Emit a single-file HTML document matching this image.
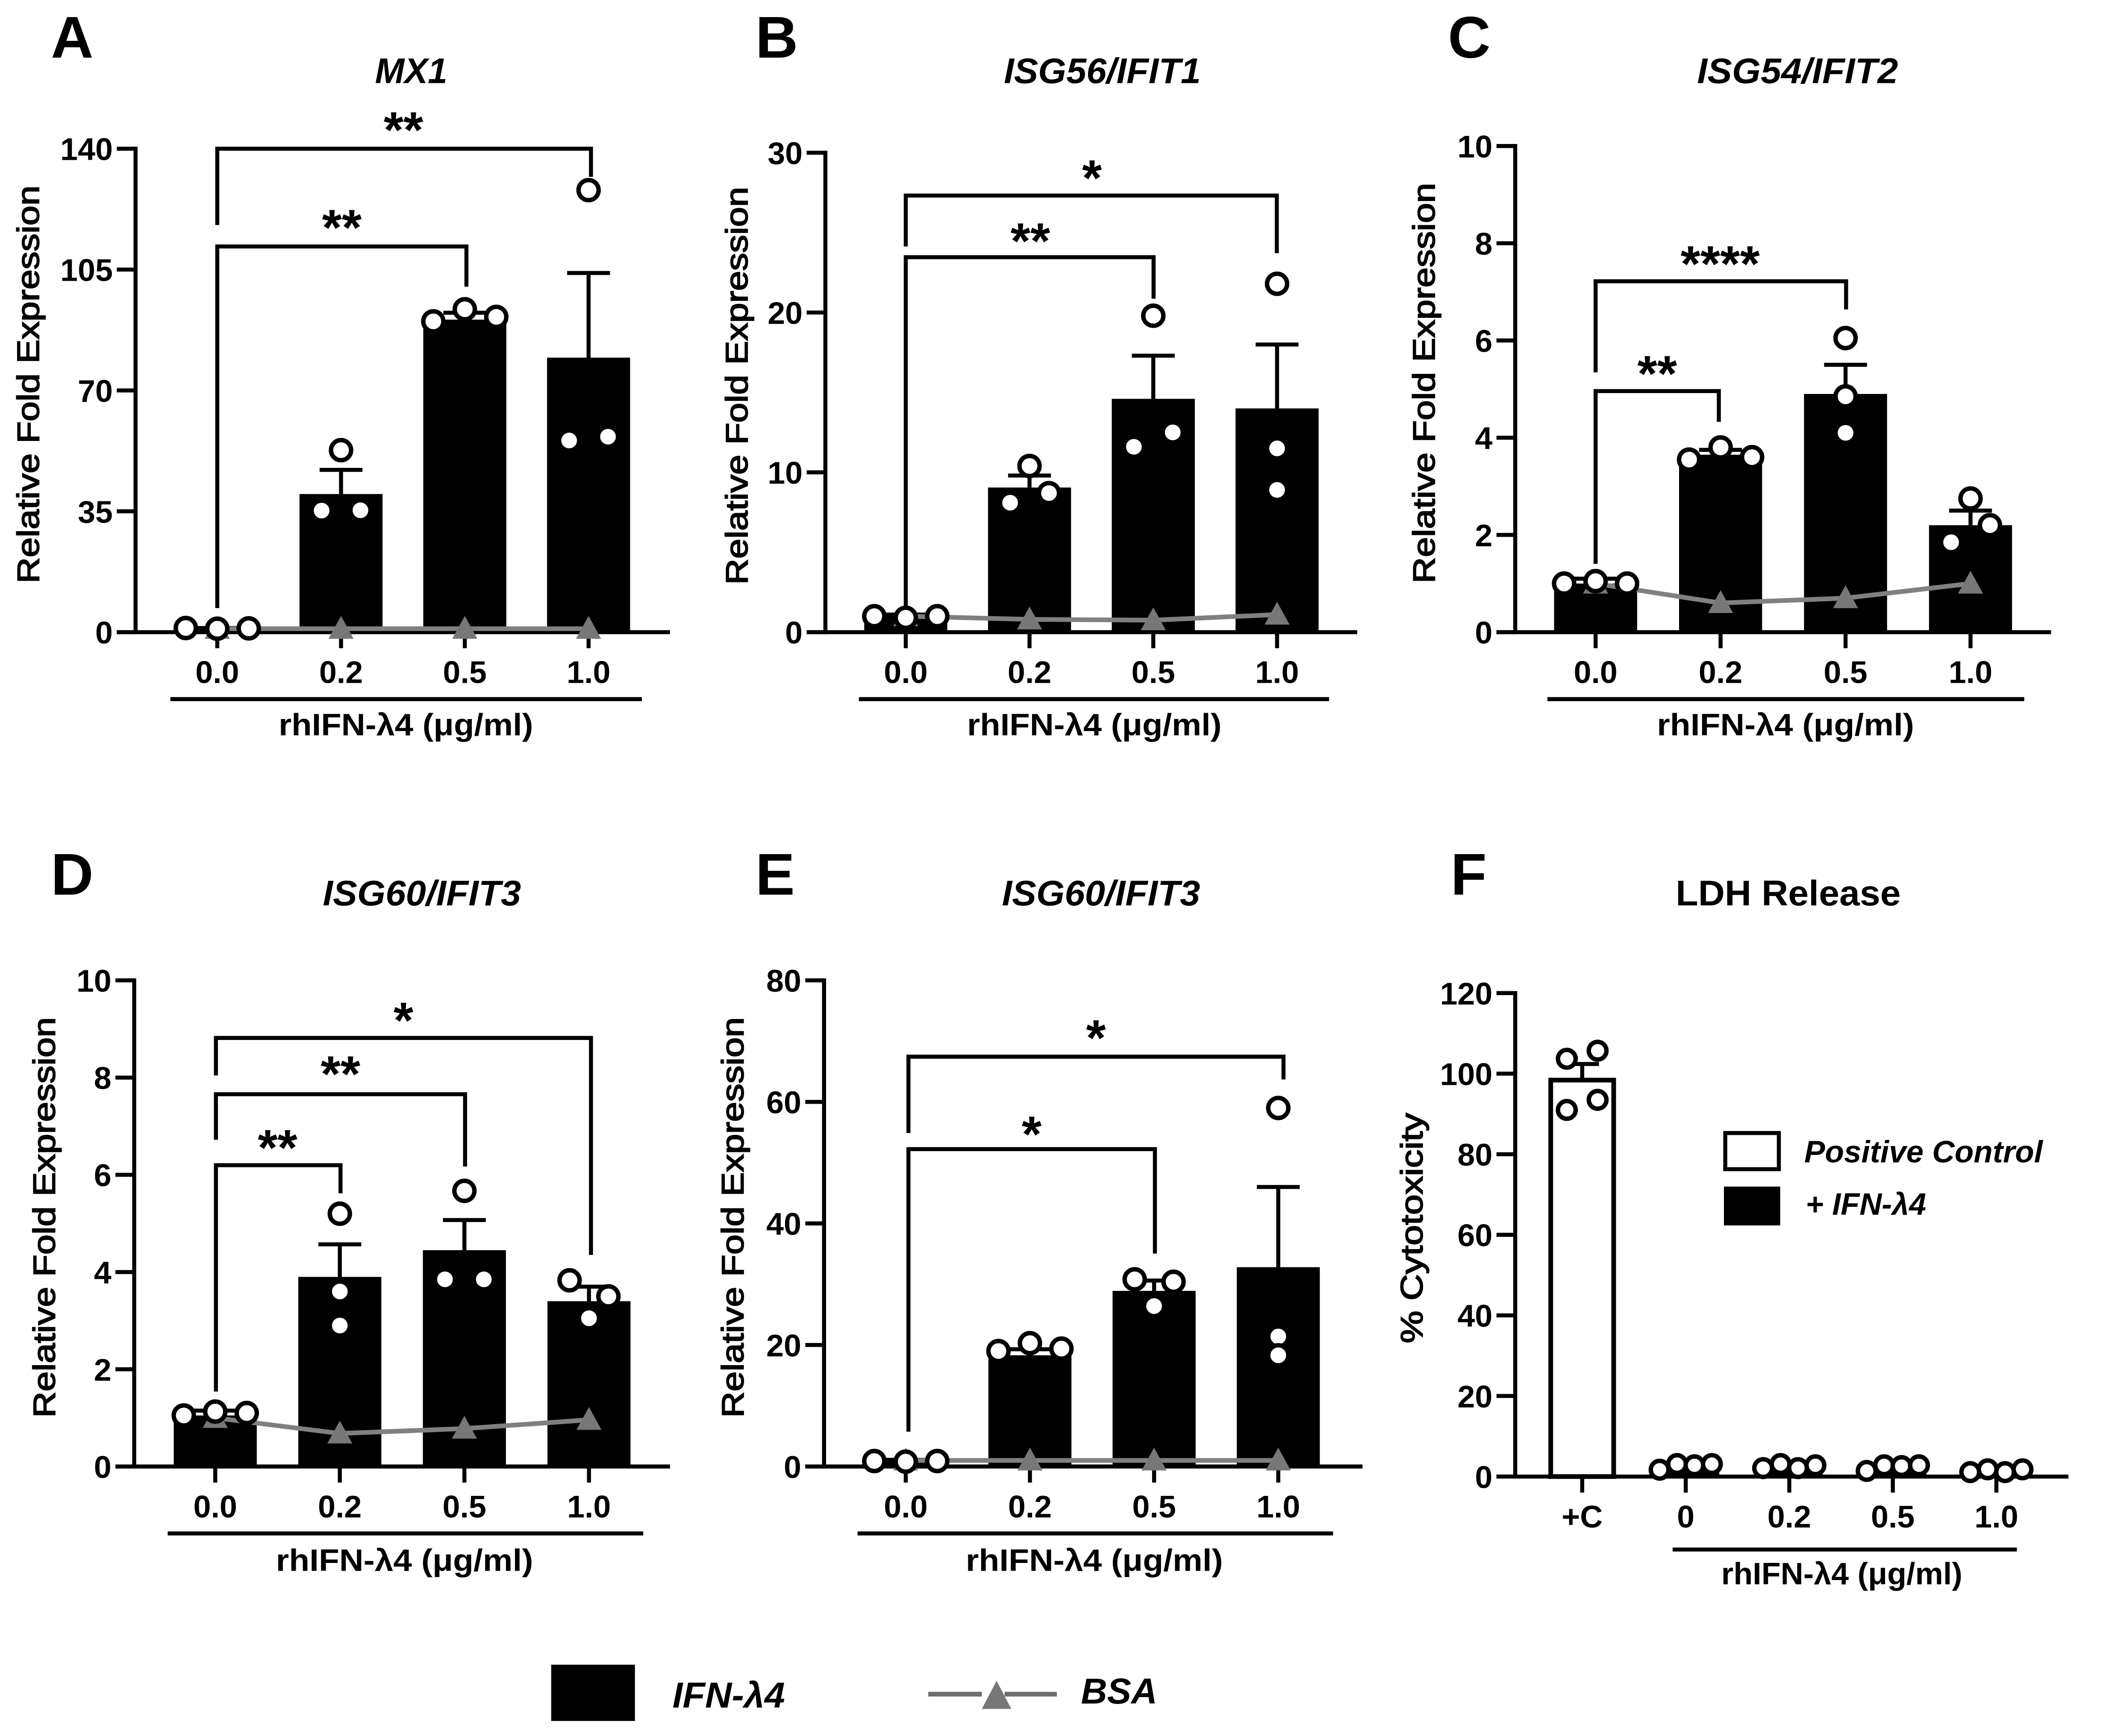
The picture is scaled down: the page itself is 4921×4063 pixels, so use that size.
<!DOCTYPE html>
<html lang="en">
<head>
<meta charset="utf-8">
<title>rhIFN-λ4 gene expression panels</title>
<style>
html,body{margin:0;padding:0;background:#fff;}
svg{display:block;}
text{font-family:"Liberation Sans","DejaVu Sans",sans-serif;font-weight:bold;fill:#000;}
.letter{font-size:44px;}
.title{font-size:26.5px;text-anchor:middle;}
.it{font-style:italic;}
.axt{font-size:23.5px;}
.yt{font-size:23px;text-anchor:middle;font-weight:normal;stroke:#000;stroke-width:.7px;}
.xt{font-size:23px;text-anchor:middle;}
</style>
</head>
<body>
<svg id="fig" xmlns="http://www.w3.org/2000/svg" width="4921" height="4063" viewBox="0 0 1570 1296.2">
  <rect x="0" y="0" width="1570" height="1296.2" fill="#fff"/>

  <text class="letter" x="38" y="43">A</text>
  <text class="letter" x="564" y="43">B</text>
  <text class="letter" x="1081" y="43">C</text>
  <text class="letter" x="38" y="668">D</text>
  <text class="letter" x="564" y="668">E</text>
  <text class="letter" x="1083" y="668">F</text>

  <text class="title it" x="307" y="62" textLength="54" lengthAdjust="spacingAndGlyphs">MX1</text>
  <text class="title it" x="823" y="62" textLength="147" lengthAdjust="spacingAndGlyphs">ISG56/IFIT1</text>
  <text class="title it" x="1342" y="62" textLength="150" lengthAdjust="spacingAndGlyphs">ISG54/IFIT2</text>
  <text class="title it" x="315" y="676" textLength="148" lengthAdjust="spacingAndGlyphs">ISG60/IFIT3</text>
  <text class="title it" x="822" y="676" textLength="148" lengthAdjust="spacingAndGlyphs">ISG60/IFIT3</text>
  <text class="title" x="1335" y="676" textLength="168" lengthAdjust="spacingAndGlyphs">LDH Release</text>

  <text class="yt" transform="translate(29,287) rotate(-90)" textLength="297" lengthAdjust="spacingAndGlyphs">Relative Fold Expression</text>
  <text class="yt" transform="translate(558,288) rotate(-90)" textLength="297" lengthAdjust="spacingAndGlyphs">Relative Fold Expression</text>
  <text class="yt" transform="translate(1071,286) rotate(-90)" textLength="299" lengthAdjust="spacingAndGlyphs">Relative Fold Expression</text>
  <text class="yt" transform="translate(41,909) rotate(-90)" textLength="299" lengthAdjust="spacingAndGlyphs">Relative Fold Expression</text>
  <text class="yt" transform="translate(555,909) rotate(-90)" textLength="299" lengthAdjust="spacingAndGlyphs">Relative Fold Expression</text>
  <text class="yt" transform="translate(1062,917) rotate(-90)" textLength="172" lengthAdjust="spacingAndGlyphs">% Cytotoxicity</text>

  <text class="xt" x="303" y="549" textLength="190" lengthAdjust="spacingAndGlyphs">rhIFN-λ4 (μg/ml)</text>
  <text class="xt" x="817" y="549" textLength="190" lengthAdjust="spacingAndGlyphs">rhIFN-λ4 (μg/ml)</text>
  <text class="xt" x="1333" y="549" textLength="192" lengthAdjust="spacingAndGlyphs">rhIFN-λ4 (μg/ml)</text>
  <text class="xt" x="302" y="1173" textLength="192" lengthAdjust="spacingAndGlyphs">rhIFN-λ4 (μg/ml)</text>
  <text class="xt" x="817" y="1173" textLength="192" lengthAdjust="spacingAndGlyphs">rhIFN-λ4 (μg/ml)</text>
  <text class="xt" x="1375" y="1183" textLength="180" lengthAdjust="spacingAndGlyphs">rhIFN-λ4 (μg/ml)</text>

  <g>
    <rect x="1288" y="846" width="40" height="27" fill="#fff" stroke="#000" stroke-width="3"/>
    <text class="it" x="1347" y="868" font-size="23" textLength="178" lengthAdjust="spacingAndGlyphs">Positive Control</text>
    <rect x="1287" y="886" width="42" height="29" fill="#000"/>
    <text class="it" x="1348" y="907" font-size="23" textLength="90" lengthAdjust="spacingAndGlyphs">+ IFN-λ4</text>
  </g>

  <g>
    <rect x="411.5" y="1243" width="62.5" height="42" fill="#000"/>
    <text class="it" x="502" y="1275" font-size="27" textLength="84" lengthAdjust="spacingAndGlyphs">IFN-λ4</text>
    <line x1="693" y1="1265" x2="733" y2="1265" stroke="#6e6e6e" stroke-width="3.5"/>
    <line x1="750" y1="1265" x2="789" y2="1265" stroke="#6e6e6e" stroke-width="3.5"/>
    <polygon points="744,1255 755,1276 733,1276" fill="#777"/>
    <text class="it" x="807" y="1272" font-size="27" textLength="57" lengthAdjust="spacingAndGlyphs">BSA</text>
  </g>
</svg>

<script>
// Shared category labels
const doseLabels = ['0.0', '0.2', '0.5', '1.0'];
const ldhLabels = ['+C', '0', '0.2', '0.5', '1.0'];

// Panel A: MX1
const aTicks = [0, 35, 70, 105, 140];
const aMeans = [1, 40, 90.5, 79.5];
const aErrors = [1.2, 47, 92.5, 104];
const aPoints = [[1.2, 1, 1.1], [35.2, 52.7, 35.3], [90, 93.5, 91.3], [55.5, 128, 56.6]];
const aBsa = [1, 1, 1, 1];

// Panel B: ISG56/IFIT1
const bTicks = [0, 10, 20, 30];
const bMeans = [1, 9.05, 14.6, 14];
const bErrors = [1.1, 9.8, 17.3, 18];
const bPoints = [[1, 0.9, 1], [8.1, 10.4, 8.7], [11.6, 19.8, 12.5], [8.9, 11.5, 21.8]];
const bBsa = [1, 0.8, 0.75, 1.1];

// Panel C: ISG54/IFIT2
const cTicks = [0, 2, 4, 6, 8, 10];
const cMeans = [1, 3.65, 4.9, 2.2];
const cErrors = [1.1, 3.75, 5.5, 2.5];
const cPoints = [[1, 1.05, 1], [3.55, 3.8, 3.6], [6.05, 4.85, 4.1], [1.85, 2.75, 2.2]];
const cBsa = [1, 0.6, 0.7, 1];

// Panel D: ISG60/IFIT3
const dTicks = [0, 2, 4, 6, 8, 10];
const dMeans = [1.05, 3.9, 4.45, 3.4];
const dErrors = [1.15, 4.57, 5.07, 3.7];
const dPoints = [[1.05, 1.13, 1.1], [5.2, 3.6, 2.9], [3.85, 5.67, 3.85], [3.83, 3.05, 3.5]];
const dBsa = [1, 0.68, 0.78, 0.96];

// Panel E: ISG60/IFIT3
const eTicks = [0, 20, 40, 60, 80];
const eMeans = [1, 18.3, 28.9, 32.8];
const eErrors = [1.1, 19.3, 30.6, 46];
const ePoints = [[0.9, 0.8, 0.9], [19, 20.3, 19.4], [30.8, 26.4, 30.4], [59, 21.4, 18.3]];
const eBsa = [1, 1, 1, 1];

// Panel F: LDH release
const fTicks = [0, 20, 40, 60, 80, 100, 120];
const fMeans = [98.4, 2.6, 2.6, 2.4, 1.5];
const fErrors = [102.4, 3, 3, 2.8, 1.8];
const fPoints = [[91, 103.7, 93.5, 105.7], [1.7, 3.1, 2.8, 3.1], [2.1, 3.1, 2.1, 2.8], [1.4, 2.8, 2.6, 2.8], [1.1, 1.8, 1.1, 1.8]];

const svg = document.getElementById('fig');
const NS = 'http://www.w3.org/2000/svg';

function mk(tag, attrs, parent) {
  const el = document.createElementNS(NS, tag);
  for (const k in attrs) el.setAttribute(k, attrs[k]);
  (parent || svg).appendChild(el);
  return el;
}

// Place replicate points: points within a close pixel distance are spread sideways,
// in array order, and isolated points remain centred.
function dodge(ys, s) {
  const order = ys.map((y, i) => ({ y, i })).sort((p, q) => p.y - q.y);
  const groups = [];
  order.forEach((p, n) => {
    if (n > 0 && p.y - order[n - 1].y < 13.5) groups[groups.length - 1].push(p.i);
    else groups.push([p.i]);
  });
  const offs = ys.map(() => 0);
  groups.forEach(g => {
    g.sort((a, b) => a - b);
    const step = g.length === 2 ? s.pair : g.length === 3 ? s.triple : s.quad;
    g.forEach((idx, k) => { offs[idx] = (k - (g.length - 1) / 2) * step; });
  });
  return offs;
}

function drawPanel(p) {
  const g = mk('g', { transform: 'translate(1.2,1)' });
  
  

  const yMax = p.ticks[p.ticks.length - 1];
  const yScale = v => p.y0 - (v / yMax) * (p.y0 - p.yTop);
  const xScale = i => p.x0 + i * p.dx;

  // Bars
  p.means.forEach((m, i) => {
    const isWhite = p.whiteBars && p.whiteBars.indexOf(i) >= 0;
    const bar = mk('rect', {
      x: xScale(i) - p.barW / 2 + (isWhite ? 1.5 : 0),
      y: yScale(m),
      width: p.barW - (isWhite ? 3 : 0),
      height: Math.max(0, p.y0 - yScale(m)),
      fill: isWhite ? '#fff' : '#000',
      stroke: isWhite ? '#000' : 'none',
      'stroke-width': isWhite ? 3.5 : 0
    }, g);
    
    
  });

  // Error bars
  p.errors.forEach((e, i) => {
    const stem = mk('line', { x1: xScale(i), x2: xScale(i), y1: yScale(p.means[i]), y2: yScale(e), stroke: '#000', 'stroke-width': 3 }, g);
    
    
    const cap = mk('line', { x1: xScale(i) - p.capW / 2, x2: xScale(i) + p.capW / 2, y1: yScale(e), y2: yScale(e), stroke: '#000', 'stroke-width': 3 }, g);
    
    
  });

  // Axes
  const yAxis = mk('line', { x1: p.axisX, x2: p.axisX, y1: yScale(yMax) - 1.5, y2: p.y0 + 1.5, stroke: '#000', 'stroke-width': 3 }, g);
  
  
  const xAxis = mk('line', { x1: p.axisX - 14, x2: p.axisEnd, y1: p.y0, y2: p.y0, stroke: '#000', 'stroke-width': 3 }, g);
  
  

  p.ticks.forEach(t => {
    const tick = mk('line', { x1: p.axisX - 14, x2: p.axisX, y1: yScale(t), y2: yScale(t), stroke: '#000', 'stroke-width': 3 }, g);
    
    
    const lab = mk('text', { x: p.axisX - 17, y: yScale(t) + 8.5, 'text-anchor': 'end', class: 'axt' }, g);
    lab.textContent = t;
    
    
  });

  p.labels.forEach((l, i) => {
    const tick = mk('line', { x1: xScale(i), x2: xScale(i), y1: p.y0, y2: p.y0 + 12, stroke: '#000', 'stroke-width': 3 }, g);
    
    
    const lab = mk('text', { x: xScale(i), y: p.y0 + 38, 'text-anchor': 'middle', class: 'axt' }, g);
    lab.textContent = l;
    
    
  });

  // Dose underline
  const under = mk('line', { x1: p.under[0], x2: p.under[1], y1: p.under[2], y2: p.under[2], stroke: '#000', 'stroke-width': 3 }, g);
  
  

  // BSA series (drawn beneath the replicate points)
  if (p.bsa) {
    const line = mk('polyline', { points: p.bsa.map((v, i) => xScale(i) + ',' + yScale(v)).join(' '), fill: 'none', stroke: '#808080', 'stroke-width': 3.5 }, g);
    
    
    p.bsa.forEach((v, i) => {
      const x = xScale(i), y = yScale(v);
      const tri = mk('polygon', { points: x + ',' + (y - 8.5) + ' ' + (x + 8.5) + ',' + (y + 7) + ' ' + (x - 8.5) + ',' + (y + 7), fill: '#777', stroke: '#777', 'stroke-width': 1 }, g);
      
      
    });
  }

  // Replicate points
  p.points.forEach((vals, i) => {
    const ys = vals.map(yScale);
    const offs = dodge(ys, p.spread);
    vals.forEach((v, k) => {
      const c = mk('circle', { cx: xScale(i) + offs[k], cy: yScale(v), r: p.r, fill: '#fff', stroke: '#000', 'stroke-width': 3.3 }, g);
      
      
    });
  });

  // Significance brackets
  (p.brackets || []).forEach((b, n) => {
    const path = mk('path', { d: 'M' + b.x1 + ' ' + b.leftEnd + 'V' + b.y + 'H' + b.x2 + 'V' + b.rightEnd, fill: 'none', stroke: '#000', 'stroke-width': 3 }, g);
    
    
    const star = mk('text', { x: b.sx, y: b.sy + 17, 'text-anchor': 'middle', 'font-size': 38 }, g);
    star.textContent = b.stars;
    
    
  });
}

const spreadDefault = { pair: 29, triple: 23.5, quad: 13 };

drawPanel({ id: 'a', labels: doseLabels, ticks: aTicks, means: aMeans, errors: aErrors, points: aPoints, bsa: aBsa,
  axisX: 100, axisEnd: 499, y0: 471, yTop: 110, x0: 161, dx: 92.4, barW: 62, capW: 32, r: 7.5, spread: spreadDefault,
  under: [126, 478, 521],
  brackets: [
    { x1: 161, x2: 440, y: 110, leftEnd: 167, rightEnd: 131, stars: '**', sx: 300, sy: 92 },
    { x1: 161, x2: 347, y: 183, leftEnd: 453, rightEnd: 213, stars: '**', sx: 254, sy: 165 }
  ] });

drawPanel({ id: 'b', labels: doseLabels, ticks: bTicks, means: bMeans, errors: bErrors, points: bPoints, bsa: bBsa,
  axisX: 615, axisEnd: 1012, y0: 471, yTop: 113, x0: 675, dx: 92.4, barW: 62, capW: 32, r: 7.5, spread: spreadDefault,
  under: [640, 991, 521],
  brackets: [
    { x1: 675, x2: 952, y: 145, leftEnd: 183, rightEnd: 188, stars: '*', sx: 814, sy: 128 },
    { x1: 675, x2: 860, y: 191, leftEnd: 453, rightEnd: 222, stars: '**', sx: 768, sy: 175 }
  ] });

drawPanel({ id: 'c', labels: doseLabels, ticks: cTicks, means: cMeans, errors: cErrors, points: cPoints, bsa: cBsa,
  axisX: 1130, axisEnd: 1530, y0: 471, yTop: 108, x0: 1190, dx: 93.3, barW: 62, capW: 32, r: 7.5, spread: spreadDefault,
  under: [1154, 1510, 521],
  brackets: [
    { x1: 1190, x2: 1377, y: 209, leftEnd: 277, rightEnd: 230, stars: '****', sx: 1283, sy: 192 },
    { x1: 1190, x2: 1282, y: 291, leftEnd: 420, rightEnd: 314, stars: '**', sx: 1236, sy: 274 }
  ] });

drawPanel({ id: 'd', labels: doseLabels, ticks: dTicks, means: dMeans, errors: dErrors, points: dPoints, bsa: dBsa,
  axisX: 99, axisEnd: 499, y0: 1094, yTop: 731, x0: 159.5, dx: 93, barW: 62, capW: 32, r: 7.5, spread: spreadDefault,
  under: [124, 479, 1144],
  brackets: [
    { x1: 160, x2: 440, y: 774, leftEnd: 802, rightEnd: 936, stars: '*', sx: 300, sy: 757 },
    { x1: 160, x2: 346, y: 816, leftEnd: 850, rightEnd: 870, stars: '**', sx: 253, sy: 797 },
    { x1: 160, x2: 253, y: 869, leftEnd: 1038, rightEnd: 890, stars: '**', sx: 206, sy: 852 }
  ] });

drawPanel({ id: 'e', labels: doseLabels, ticks: eTicks, means: eMeans, errors: eErrors, points: ePoints, bsa: eBsa,
  axisX: 614, axisEnd: 1016, y0: 1094, yTop: 731, x0: 675, dx: 92.7, barW: 62, capW: 32, r: 7.5, spread: spreadDefault,
  under: [639, 994, 1144],
  brackets: [
    { x1: 677, x2: 957, y: 788, leftEnd: 845, rightEnd: 805, stars: '*', sx: 817, sy: 770 },
    { x1: 677, x2: 861, y: 857, leftEnd: 1068, rightEnd: 935, stars: '*', sx: 769, sy: 842 }
  ] });

drawPanel({ id: 'f', labels: ldhLabels, ticks: fTicks, means: fMeans, errors: fErrors, points: fPoints, whiteBars: [0],
  axisX: 1130, axisEnd: 1543, y0: 1101.5, yTop: 740.5, x0: 1180, dx: 77.3, barW: 50, capW: 25, r: 6.6,
  spread: { pair: 23, triple: 13, quad: 13 },
  under: [1247.5, 1504.5, 1156] });
</script>
</body>
</html>
